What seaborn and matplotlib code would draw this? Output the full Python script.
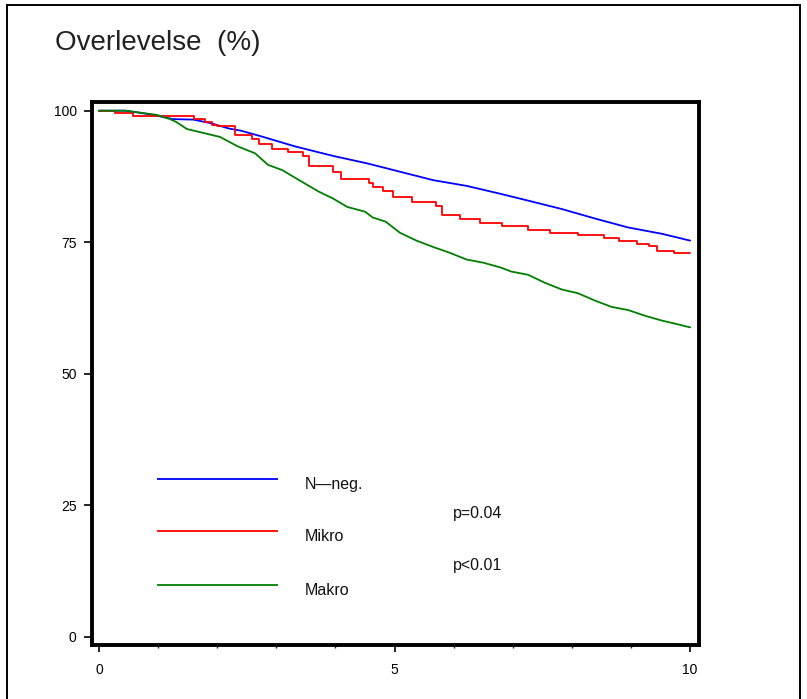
import numpy as np
import pandas as pd
import matplotlib
matplotlib.use("Agg")
import matplotlib.pyplot as plt
import seaborn as sns

# Kaplan-Meier style survival curves, years vs. survival (%)
groups = ["N\u2014neg.", "Mikro", "Makro"]
colors = ["#0000ff", "#ff0000", "#008000"]

nneg_t = [0, 0.45, 0.75, 1.0, 1.25, 1.6, 1.9, 2.2, 2.4, 2.75, 3.32, 3.96, 4.53,
          5.09, 5.65, 6.22, 6.79, 7.26, 7.83, 8.39, 8.95, 9.52, 10.0]
nneg_s = [100, 100, 99.5, 99.0, 98.4, 98.3, 97.6, 96.6, 96.2, 95.1, 93.2, 91.4, 90.0,
          88.4, 86.8, 85.7, 84.2, 82.9, 81.3, 79.5, 77.8, 76.6, 75.3]

mikro_t = [0, 0.27, 0.58, 1.6, 1.79, 1.91, 2.0, 2.3, 2.59, 2.7, 2.93, 3.2, 3.45,
           3.55, 3.96, 4.1, 4.57, 4.63, 4.8, 4.97, 5.3, 5.7, 5.8, 6.1, 6.45, 6.81,
           7.26, 7.63, 8.1, 8.55, 8.8, 9.1, 9.3, 9.44, 9.72, 10.0]
mikro_s = [100, 99.5, 98.9, 98.5, 97.9, 97.3, 97.0, 95.4, 94.7, 93.6, 92.8, 92.2, 91.3,
           89.5, 88.4, 87.1, 86.2, 85.4, 84.8, 83.6, 82.7, 81.9, 80.2, 79.4, 78.6, 78.1,
           77.4, 76.8, 76.4, 75.7, 75.3, 74.7, 74.3, 73.4, 72.9, 72.9]

makro_t = [0, 0.44, 0.98, 1.2, 1.3, 1.49, 1.79, 2.05, 2.35, 2.64, 2.86, 3.1, 3.4,
           3.72, 3.96, 4.2, 4.5, 4.63, 4.85, 5.09, 5.37, 5.65, 5.93, 6.22, 6.5, 6.79,
           6.98, 7.26, 7.54, 7.83, 8.1, 8.39, 8.67, 8.95, 9.24, 9.52, 9.75, 10.0]
makro_s = [100, 100, 99.2, 98.4, 97.9, 96.5, 95.7, 95.0, 93.2, 91.9, 89.7, 88.7, 86.7,
           84.6, 83.3, 81.7, 80.8, 79.7, 78.9, 76.8, 75.3, 74.1, 73.0, 71.7, 71.1, 70.2,
           69.4, 68.8, 67.3, 66.0, 65.3, 63.9, 62.7, 62.1, 61.0, 60.1, 59.5, 58.8]

p_labels = ["p=0.04", "p<0.01"]

x_ticks = [0, 5, 10]
y_ticks = [0, 25, 50, 75, 100]

sns.set_style("white")
plt.rcParams["font.family"] = ["Liberation Sans", "DejaVu Sans"]

W, H = 807, 699
fig = plt.figure(figsize=(W / 100, H / 100), dpi=100)

# outer frame around the whole figure
frame = plt.Rectangle((7 / W, -0.05), (800 - 7) / W, 1.05 - 5 / H,
                      transform=fig.transFigure, fill=False,
                      edgecolor="black", linewidth=1.4)
fig.patches.append(frame)

ax = fig.add_axes([92 / W, 1 - 645 / H, (699 - 92) / W, (645 - 102) / H])

series = [(nneg_t, nneg_s, None), (mikro_t, mikro_s, "steps-post"), (makro_t, makro_s, None)]
for name, col, (t, s, ds) in zip(groups, colors, series):
    df = pd.DataFrame({"t": t, "s": s})
    kw = {"drawstyle": ds} if ds else {}
    sns.lineplot(data=df, x="t", y="s", ax=ax, color=col, linewidth=1.3,
                 estimator=None, sort=False, **kw)

ax.set_xlim(-0.118, 10.15)
ax.set_ylim(-1.58, 101.65)
ax.set_xlabel("")
ax.set_ylabel("")

ax.set_xticks(x_ticks)
ax.set_xticks(np.arange(0, 11, 1), minor=True)
ax.set_yticks(y_ticks)
ax.set_xticklabels([str(v) for v in x_ticks])
ax.set_yticklabels([str(v) for v in y_ticks])
ax.tick_params(axis="x", which="major", direction="out", length=5, width=1.2,
               bottom=True, labelsize=10, pad=8, colors="black")
ax.tick_params(axis="x", which="minor", direction="out", length=2.5, width=1.0,
               bottom=True)
ax.tick_params(axis="y", which="major", direction="out", length=6, width=1.2,
               left=True, labelsize=10, pad=5, colors="black")

for sp in ax.spines.values():
    sp.set_visible(True)
    sp.set_color("black")
    sp.set_linewidth(2.8)

# hand-placed key inside the plot area
key_y = [0.306, 0.210, 0.110]
lab_y = [0.295, 0.199, 0.101]
for name, col, ky, ly in zip(groups, colors, key_y, lab_y):
    ax.plot([0.107, 0.306], [ky, ky], transform=ax.transAxes, color=col,
            linewidth=1.3, solid_capstyle="butt")
    ax.text(0.351, ly, name, transform=ax.transAxes, fontsize=11.5,
            va="center", ha="left", color="#111111")

for txt, py in zip(p_labels, [0.243, 0.147]):
    ax.text(0.595, py, txt, transform=ax.transAxes, fontsize=11.5,
            va="center", ha="left", color="#111111")

fig.text(55 / W, 1 - 50 / H, "Overlevelse  (%)", fontsize=20, color="#222222",
         ha="left", va="baseline")

fig.savefig("out.png", dpi=100)
